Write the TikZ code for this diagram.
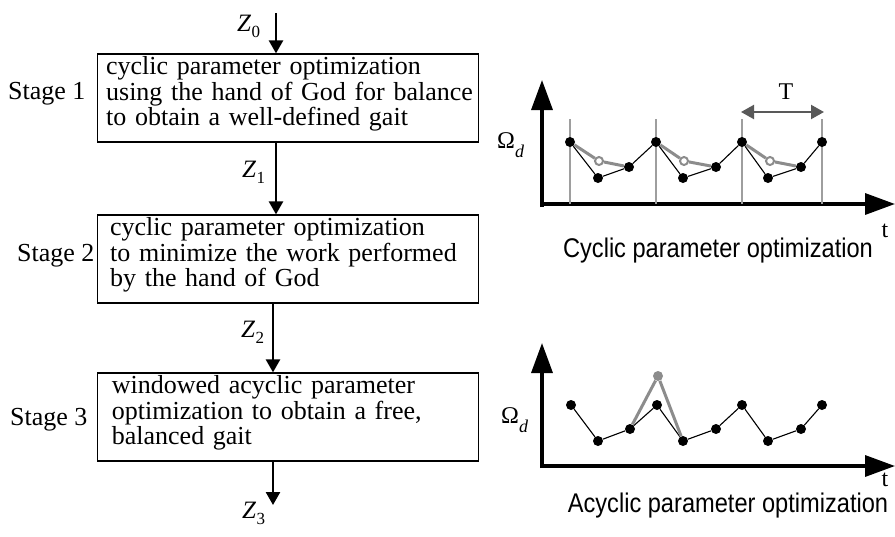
\documentclass[tikz,border=0pt]{standalone}
\usepackage{fontspec}
\setmainfont{Liberation Serif}
\newfontfamily\plotsans[FakeStretch=0.875]{Liberation Sans}
\usepackage{tikz}
\usetikzlibrary{arrows.meta}

\definecolor{curvegray}{gray}{0.55}
\definecolor{linegray}{gray}{0.62}
\definecolor{pergray}{gray}{0.35}

\newcommand{\boxsize}{\fontsize{26}{25.5}\selectfont}
\newcommand{\zlab}[1]{{\fontsize{25}{25}\selectfont\itshape Z}\kern0.5pt\raisebox{-6pt}{\fontsize{17}{17}\selectfont #1}}
\newcommand{\omlab}{{\fontsize{24}{24}\selectfont Ω}\raisebox{-9pt}{\fontsize{18}{18}\selectfont\itshape d}}

\begin{document}
\begin{tikzpicture}[x=1pt,y=-1pt,
    stagebox/.style={draw,line width=1.2pt,minimum width=381pt,minimum height=88pt,
      inner sep=0pt,text height=20.8pt,text depth=67.2pt,align=left,font=\boxsize},
    stagelab/.style={anchor=base west,inner sep=0pt,font=\boxsize},
    zarrow/.style={line width=2.6pt,-{Triangle[length=13pt,width=14pt]}},
    axis/.style={line width=3.4pt,-{Triangle[length=30pt,width=21pt]}},
    dot/.style={circle,fill=black,inner sep=0pt,minimum size=10pt},
    ring/.style={circle,draw=curvegray,fill=white,line width=2pt,inner sep=0pt,minimum size=8pt},
    gdot/.style={circle,fill=curvegray,inner sep=0pt,minimum size=10pt},
    curve/.style={line width=1.1pt},
    gcurve/.style={curvegray,line width=3pt},
    tick/.style={linegray,line width=1.2pt},
    plotlab/.style={anchor=base,inner sep=0pt,font=\plotsans\fontsize{27}{27}\selectfont}]

  \useasboundingbox (0,0) rectangle (895,536);

  % ETAGES
  \node[stagebox,text width=364.4pt] (s1) at (288.35,98)
    {\mbox{cyclic parameter optimization}\\\mbox{using the hand of God for balance}\\\mbox{to obtain a well-defined gait}};
  \node[stagebox,text width=356.4pt] (s2) at (288.35,259)
    {\mbox{cyclic parameter optimization}\\\mbox{to minimize the work performed}\\\mbox{by the hand of God}};
  \node[stagebox,text width=353pt] (s3) at (288.35,417)
    {\mbox{windowed acyclic parameter}\\\mbox{optimization to obtain a free,}\\\mbox{balanced gait}};

  \node[stagelab] (l1) at (8,99) {Stage 1};
  \node[stagelab] (l2) at (17,261) {Stage 2};
  \node[stagelab] (l3) at (10,425) {Stage 3};

  % FLECHES Z
  \coordinate (a0) at (276,13);
  \coordinate (a1) at (276,0);
  \coordinate (a2) at (273,0);
  \coordinate (a3) at (273,505);
  \draw[zarrow] (a0) -- (a0 |- s1.north);
  \draw[zarrow] (s1.south -| a1) -- (s2.north -| a1);
  \draw[zarrow] (s2.south -| a2) -- (s3.north -| a2);
  \draw[zarrow] (s3.south -| a3) -- (a3);

  \node[anchor=base west,inner sep=0pt] (z0) at (237,31) {\zlab{0}};
  \node[anchor=base west,inner sep=0pt] (z1) at (242,177) {\zlab{1}};
  \node[anchor=base west,inner sep=0pt] (z2) at (241,337) {\zlab{2}};
  \node[anchor=base west,inner sep=0pt] (z3) at (242,518) {\zlab{3}};

  % COURBE CYCLIQUE
  \coordinate (o1) at (542,204);
  \draw[axis] (542,207) -- (542,80);
  \draw[axis] (540,204) -- (895,204);

  \coordinate (v1) at (570,119);
  \coordinate (v2) at (656,119);
  \coordinate (v3) at (742,119);
  \coordinate (v4) at (822,119);
  \draw[tick] (v1) -- (v1 |- o1);
  \draw[tick] (v2) -- (v2 |- o1);
  \draw[tick] (v3) -- (v3 |- o1);
  \draw[tick] (v4) -- (v4 |- o1);

  \coordinate (ta) at (741,112);
  \coordinate (tb) at (824,112);
  \draw[pergray,line width=2.2pt,{Triangle[length=13pt,width=14pt]}-{Triangle[length=13pt,width=14pt]}] (ta) -- (tb);
  \node[anchor=base,inner sep=0pt,font=\fontsize{24}{24}\selectfont] (per) at (786,99) {T};

  \node[dot] (p1) at (570,142) {};
  \node[dot] (p2) at (598,178) {};
  \node[dot] (p3) at (629,167) {};
  \node[dot] (p4) at (656,142) {};
  \node[dot] (p5) at (683,178) {};
  \node[dot] (p6) at (716,167) {};
  \node[dot] (p7) at (742,142) {};
  \node[dot] (p8) at (768,178) {};
  \node[dot] (p9) at (801,167) {};
  \node[dot] (p10) at (822,142) {};
  \draw[curve] (p1) -- (p2) -- (p3) -- (p4) -- (p5) -- (p6) -- (p7) -- (p8) -- (p9) -- (p10);

  \node[ring] (g1) at (599,161) {};
  \node[ring] (g2) at (684,161) {};
  \node[ring] (g3) at (770,161) {};
  \draw[gcurve] (p1) -- (g1) -- (p3);
  \draw[gcurve] (p4) -- (g2) -- (p6);
  \draw[gcurve] (p7) -- (g3) -- (p9);

  \node[anchor=base west,inner sep=0pt] (om1) at (497,148) {\omlab};
  \node[anchor=base,inner sep=0pt,font=\fontsize{24}{24}\selectfont] (t1) at (885,237) {t};
  \node[plotlab] (c1) at (718,257) {Cyclic parameter optimization};

  % COURBE ACYCLIQUE
  \draw[axis] (542,468) -- (542,343);
  \draw[axis] (540,466) -- (895,466);

  \node[dot] (q1) at (571,405) {};
  \node[dot] (q2) at (598,441) {};
  \node[dot] (q3) at (630,429) {};
  \node[dot] (q4) at (657,405) {};
  \node[dot] (q5) at (683,441) {};
  \node[dot] (q6) at (716,429) {};
  \node[dot] (q7) at (742,405) {};
  \node[dot] (q8) at (768,441) {};
  \node[dot] (q9) at (801,429) {};
  \node[dot] (q10) at (822,405) {};
  \draw[curve] (q1) -- (q2) -- (q3) -- (q4) -- (q5) -- (q6) -- (q7) -- (q8) -- (q9) -- (q10);

  \node[gdot] (h1) at (658,376) {};
  \draw[gcurve] (q3) -- (h1) -- (q5);

  \node[anchor=base west,inner sep=0pt] (om2) at (501,423) {\omlab};
  \node[anchor=base,inner sep=0pt,font=\fontsize{24}{24}\selectfont] (t2) at (885,486) {t};
  \node[plotlab] (c2) at (728,512) {Acyclic parameter optimization};
\end{tikzpicture}
\end{document}
